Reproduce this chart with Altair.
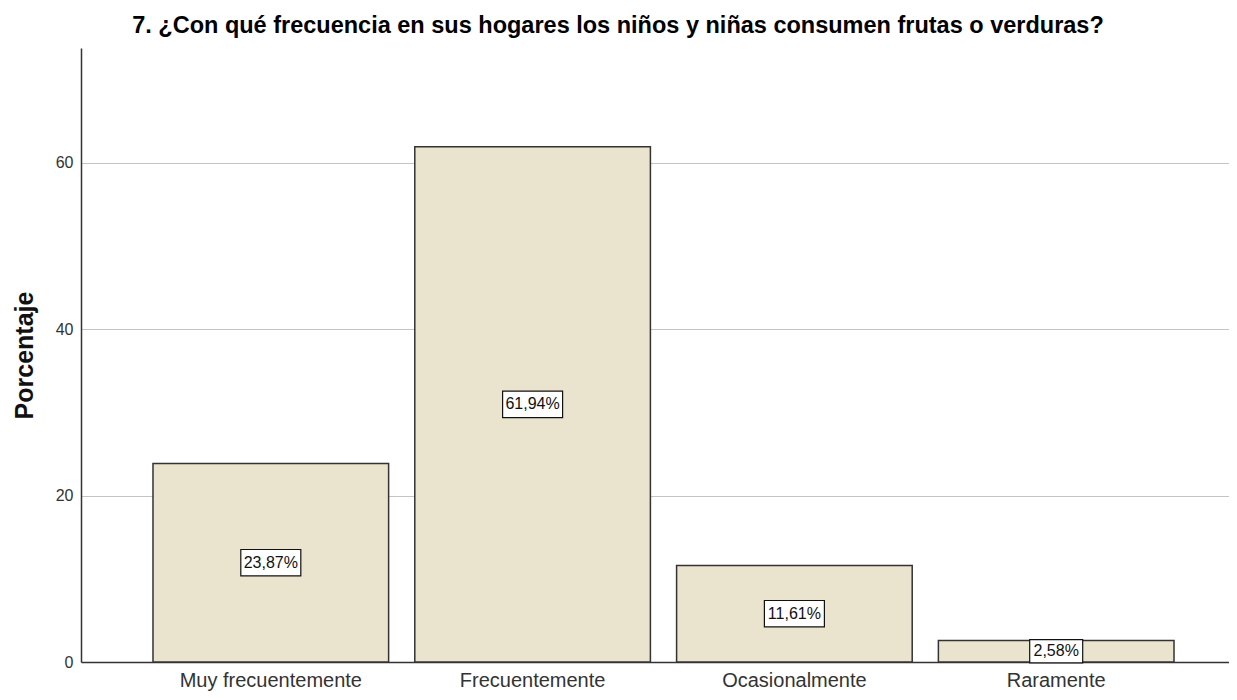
import altair as alt
import pandas as pd

categories = ["Muy frecuentemente", "Frecuentemente", "Ocasionalmente", "Raramente"]
percentages = [23.87, 61.94, 11.61, 2.58]
labels = ["23,87%", "61,94%", "11,61%", "2,58%"]
y_ticks = [0, 20, 40, 60]
title_text = "7. ¿Con qué frecuencia en sus hogares los niños y niñas consumen frutas o verduras?"

df = pd.DataFrame({"cat": categories, "pct": percentages, "label": labels})

FONT = "Liberation Sans"

x_enc = alt.X(
    "cat:N", sort=categories, title=None,
    scale=alt.Scale(range=[0, 1165], paddingInner=0.1, paddingOuter=0.275),
    axis=alt.Axis(labelAngle=0, labelFontSize=20, labelFont=FONT, labelColor="#333333",
                  labelPadding=8, labelLimit=0, ticks=False, domainColor="#333333",
                  domainWidth=1.5, grid=False),
)

y_scale = alt.Scale(domain=[0, 73.8], nice=False, zero=True)

bars = alt.Chart(df).mark_bar(fill="#EAE3CE", stroke="#333333", strokeWidth=1.5).encode(
    x=x_enc,
    y=alt.Y("pct:Q", scale=y_scale, title="Porcentaje",
            axis=alt.Axis(values=y_ticks, ticks=False, grid=True, gridColor="#c4c4c4",
                          gridWidth=1, labelFontSize=16, labelFont=FONT, labelColor="#333333",
                          labelPadding=8, domainColor="#333333", domainWidth=1.5,
                          titleFont=FONT, titleFontSize=25, titleFontWeight="bold",
                          titleColor="#111111", titlePadding=18)),
)

boxes = alt.Chart(df).transform_calculate(
    mid="datum.pct / 2",
    boxsize="pow(7 * length(datum.label) + 18, 2)",
).mark_point(
    shape="M-1,-0.44L1,-0.44L1,0.44L-1,0.44Z", filled=True, fill="white",
    stroke="#111111", strokeWidth=1.2, opacity=1,
).encode(
    x=alt.X("cat:N", sort=categories),
    y=alt.Y("mid:Q", scale=y_scale),
    size=alt.Size("boxsize:Q", scale=None, legend=None),
)

texts = alt.Chart(df).transform_calculate(
    mid="datum.pct / 2",
).mark_text(fontSize=16, font=FONT, color="#111111", baseline="middle", align="center").encode(
    x=alt.X("cat:N", sort=categories),
    y=alt.Y("mid:Q", scale=y_scale),
    text="label:N",
)

chart = alt.layer(bars, boxes, texts).properties(
    width=1148, height=614,
    title=alt.TitleParams(title_text, font=FONT, fontSize=23.5, fontWeight="bold",
                          color="#000000", anchor="middle", dx=-37, offset=11),
    autosize=alt.AutoSizeParams(type="none"),
    padding={"left": 73, "top": 40, "right": 0, "bottom": 30},
).configure_view(stroke=None)

chart.save("out.html", embed_options={"renderer": "svg", "actions": False})
